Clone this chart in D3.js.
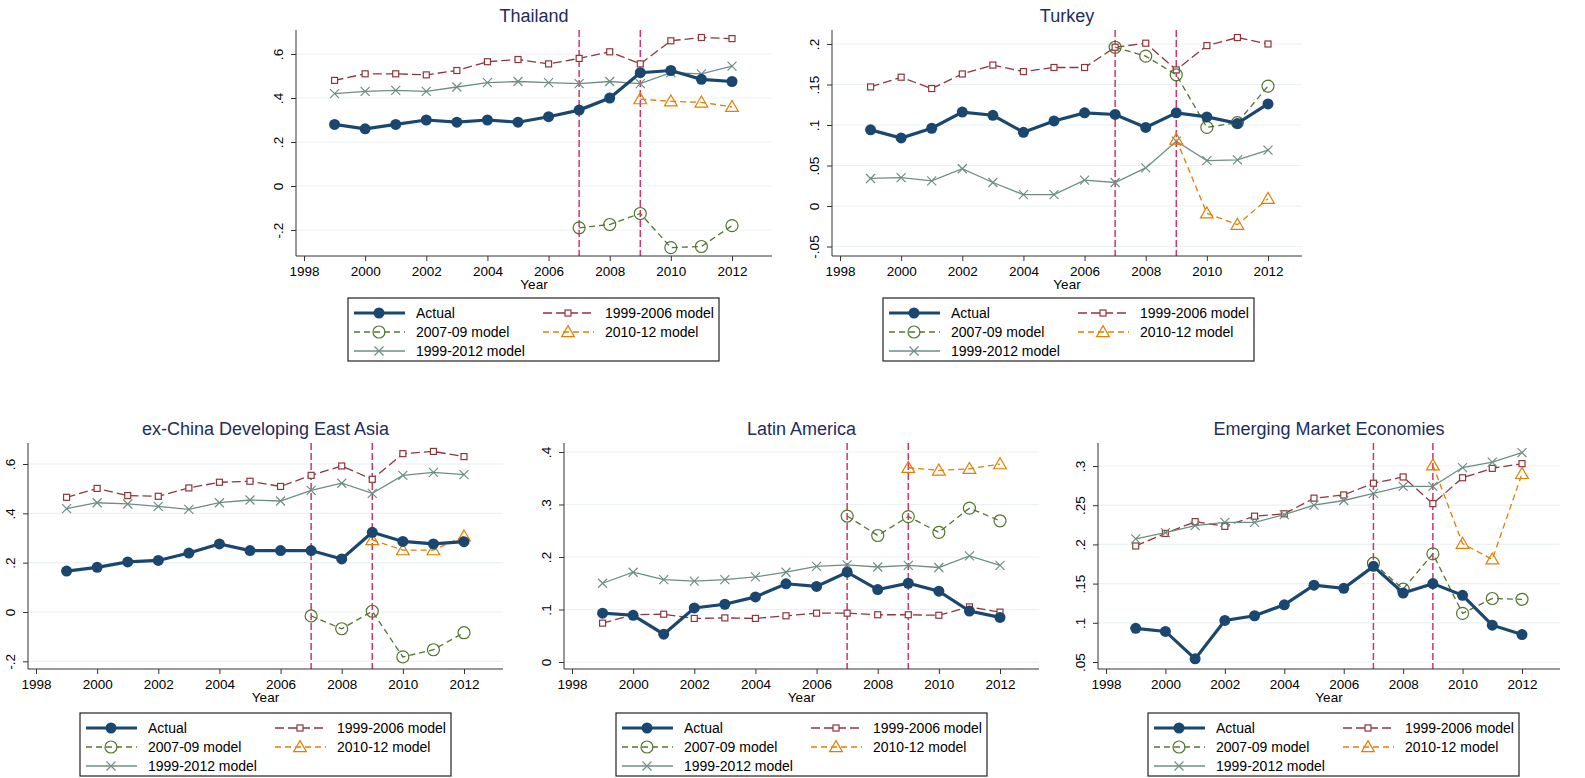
<!DOCTYPE html>
<html>
<head>
<meta charset="utf-8">
<script src="https://cdn.jsdelivr.net/npm/d3@7"></script>
<style>
  body { margin: 0; background: #fff; }
  svg { font-family: "Liberation Sans", Arial, sans-serif; }
</style>
</head>
<body>
<svg id="chart" width="1585" height="778"></svg>
<script>
// Years and tick labels
var years = d3.range(1999, 2013);
var xTicks = d3.range(1998, 2013, 2);
var breakYears = [2007, 2009];

// Thailand
var thActual = [.28, .26, .28, .30, .29, .30, .29, .315, .345, .40, .515, .525, .485, .475];
var th9906 = [.48, .51, .51, .505, .525, .565, .575, .555, .58, .61, .555, .66, .675, .67];
var th9912 = [.42, .43, .435, .43, .45, .47, .475, .47, .465, .475, .465, .515, .51, .545];
var th0709 = [-.19, -.175, -.125, -.28, -.275, -.18];   // 2007-2012
var th1012 = [.395, .385, .38, .36];                    // 2009-2012
var thTicks = [-.2, 0, .2, .4, .6];

// Turkey
var trActual = [.094, .084, .096, .116, .112, .091, .105, .115, .113, .097, .115, .110, .102, .126];
var tr9906 = [.147, .159, .145, .163, .174, .166, .171, .171, .196, .201, .168, .198, .208, .200];
var tr9912 = [.034, .035, .031, .046, .029, .014, .014, .032, .029, .047, .080, .056, .057, .069];
var tr0709 = [.196, .185, .162, .097, .103, .148];
var tr1012 = [.082, -.009, -.023, .009];
var trTicks = [-.05, 0, .05, .1, .15, .2];

// ex-China Developing East Asia
var eaActual = [.166, .181, .203, .209, .239, .276, .249, .249, .249, .215, .323, .286, .276, .285];
var ea9906 = [.465, .501, .472, .469, .503, .526, .530, .509, .554, .592, .538, .642, .651, .630];
var ea9912 = [.419, .443, .438, .428, .416, .443, .454, .450, .493, .522, .481, .554, .566, .557];
var ea0709 = [-.016, -.068, .003, -.182, -.153, -.084];
var ea1012 = [.292, .251, .251, .307];
var eaTicks = [-.2, 0, .2, .4, .6];

// Latin America
var laActual = [.093, .089, .053, .103, .110, .124, .149, .144, .171, .138, .150, .135, .097, .085];
var la9906 = [.074, .090, .091, .083, .084, .083, .088, .093, .093, .090, .090, .089, .105, .095];
var la9912 = [.150, .171, .157, .154, .157, .162, .171, .182, .185, .181, .184, .180, .202, .184];
var la0709 = [.278, .241, .277, .247, .293, .269];
var la1012 = [.370, .365, .368, .377];
var laTicks = [0, .1, .2, .3, .4];

// Emerging Market Economies
var emActual = [.093, .089, .054, .103, .109, .123, .148, .144, .172, .138, .150, .135, .097, .085];
var em9906 = [.198, .214, .229, .223, .236, .239, .259, .263, .278, .286, .252, .285, .297, .303];
var em9912 = [.207, .215, .224, .228, .228, .238, .250, .256, .265, .274, .274, .298, .305, .317];
var em0709 = [.176, .143, .188, .112, .131, .130];
var em1012 = [.301, .201, .181, .290];
var emTicks = [.05, .1, .15, .2, .25, .3];

// Layout of each panel (pixel positions), values kept above
var panels = [
  { title: "Thailand", actual: thActual, m9906: th9906, m9912: th9912, m0709: th0709, m1012: th1012, ticks: thTicks,
    axisX: 296, right: 772, top: 30, bottom: 256, px1998: 304, px2012: 732, yv: [0, .6], ypx: [186, 54], legX: 348, legY: 298 },
  { title: "Turkey", actual: trActual, m9906: tr9906, m9912: tr9912, m0709: tr0709, m1012: tr1012, ticks: trTicks,
    axisX: 832, right: 1302, top: 30, bottom: 256, px1998: 840, px2012: 1268, yv: [0, .2], ypx: [206, 44], legX: 883, legY: 298 },
  { title: "ex-China Developing East Asia", actual: eaActual, m9906: ea9906, m9912: ea9912, m0709: ea0709, m1012: ea1012, ticks: eaTicks,
    axisX: 28, right: 503, top: 443, bottom: 669, px1998: 36, px2012: 464, yv: [0, .6], ypx: [612, 464], legX: 80, legY: 713 },
  { title: "Latin America", actual: laActual, m9906: la9906, m9912: la9912, m0709: la0709, m1012: la1012, ticks: laTicks,
    axisX: 564, right: 1039, top: 443, bottom: 669, px1998: 572, px2012: 1000, yv: [0, .4], ypx: [662, 452], legX: 616, legY: 713 },
  { title: "Emerging Market Economies", actual: emActual, m9906: em9906, m9912: em9912, m0709: em0709, m1012: em1012, ticks: emTicks,
    axisX: 1098, right: 1560, top: 443, bottom: 669, px1998: 1106, px2012: 1522, yv: [.05, .3], ypx: [662, 466], legX: 1148, legY: 713 }
];

var styles = {
  actual: { color: "#1a476f", width: 3.2, dash: null, marker: "dot" },
  m9906: { color: "#90353b", width: 1.3, dash: "9,4", marker: "square" },
  m0709: { color: "#55752f", width: 1.3, dash: "6,4", marker: "circle" },
  m1012: { color: "#e37e00", width: 1.3, dash: "6,4", marker: "triangle" },
  m9912: { color: "#6e8e84", width: 1.3, dash: null, marker: "x" }
};
var legendItems = [
  { key: "actual", label: "Actual", col: 0, row: 0 },
  { key: "m9906", label: "1999-2006 model", col: 1, row: 0 },
  { key: "m0709", label: "2007-09 model", col: 0, row: 1 },
  { key: "m1012", label: "2010-12 model", col: 1, row: 1 },
  { key: "m9912", label: "1999-2012 model", col: 0, row: 2 }
];

var svg = d3.select("#chart");
var fmt = function (v) { return v === 0 ? "0" : String(+v.toFixed(2)).replace("0.", "."); };

function drawMarker(g, type, x, y, color) {
  if (type === "dot") {
    g.append("circle").attr("cx", x).attr("cy", y).attr("r", 5.5).attr("fill", color);
  } else if (type === "square") {
    g.append("rect").attr("x", x - 3).attr("y", y - 3).attr("width", 6).attr("height", 6)
      .attr("fill", "#fff").attr("stroke", color).attr("stroke-width", 1.2);
  } else if (type === "circle") {
    g.append("circle").attr("cx", x).attr("cy", y).attr("r", 6)
      .attr("fill", "none").attr("stroke", color).attr("stroke-width", 1.2);
  } else if (type === "triangle") {
    g.append("path").attr("d", d3.symbol(d3.symbolTriangle, 70)())
      .attr("transform", "translate(" + x + "," + (y + 1) + ")")
      .attr("fill", "none").attr("stroke", color).attr("stroke-width", 1.2);
  } else if (type === "x") {
    g.append("path").attr("d", "M-4.5,-4.5L4.5,4.5M-4.5,4.5L4.5,-4.5")
      .attr("transform", "translate(" + x + "," + y + ")")
      .attr("stroke", color).attr("stroke-width", 1.2);
  }
}

panels.forEach(function (p) {
  var g = svg.append("g");
  var x = d3.scaleLinear().domain([1998, 2012]).range([p.px1998, p.px2012]);
  var y = d3.scaleLinear().domain(p.yv).range(p.ypx);

  // gridlines
  g.selectAll(".grid").data(p.ticks).enter().append("line")
    .attr("x1", p.axisX).attr("x2", p.right)
    .attr("y1", d => y(d)).attr("y2", d => y(d))
    .attr("stroke", "#eaf2f3").attr("stroke-width", 1.2);

  // vertical break lines
  g.selectAll(".brk").data(breakYears).enter().append("line")
    .attr("x1", d => x(d)).attr("x2", d => x(d))
    .attr("y1", p.top).attr("y2", p.bottom)
    .attr("stroke", "#d6336c").attr("stroke-width", 1.5).attr("stroke-dasharray", "7,3");

  // axes
  var xAxis = g.append("g").attr("transform", "translate(0," + p.bottom + ")")
    .call(d3.axisBottom(x).tickValues(xTicks).tickFormat(d3.format("d")).tickSize(5).tickSizeOuter(0));
  xAxis.select(".domain").attr("d", "M" + p.axisX + ",0H" + p.right);
  xAxis.selectAll("text").attr("font-size", 13.5).attr("fill", "#000").attr("dy", "0.9em");

  var yAxis = g.append("g").attr("transform", "translate(" + p.axisX + ",0)")
    .call(d3.axisLeft(y).tickValues(p.ticks).tickFormat(fmt).tickSize(5).tickSizeOuter(0));
  yAxis.select(".domain").attr("d", "M0," + p.top + "V" + p.bottom);
  yAxis.selectAll(".tick text").attr("font-size", 13.5).attr("fill", "#000")
    .attr("x", null).attr("dy", null).attr("text-anchor", "middle")
    .attr("transform", "translate(-13,0) rotate(-90)");
  g.selectAll(".domain, .tick line").attr("stroke", "#333");

  // titles
  g.append("text").attr("x", (p.axisX + p.right) / 2).attr("y", p.top - 8)
    .attr("text-anchor", "middle").attr("font-size", 18).attr("fill", "#1e2d5c").text(p.title);
  g.append("text").attr("x", (p.axisX + p.right) / 2).attr("y", p.bottom + 33)
    .attr("text-anchor", "middle").attr("font-size", 13.5).text("Year");

  // series
  var series = [
    { key: "m9906", yrs: years, vals: p.m9906 },
    { key: "m9912", yrs: years, vals: p.m9912 },
    { key: "m0709", yrs: d3.range(2007, 2013), vals: p.m0709 },
    { key: "m1012", yrs: d3.range(2009, 2013), vals: p.m1012 },
    { key: "actual", yrs: years, vals: p.actual }
  ];
  series.forEach(function (s) {
    var st = styles[s.key];
    var pts = s.vals.map((v, i) => [s.yrs[i], v]);
    g.append("path").datum(pts)
      .attr("d", d3.line().x(d => x(d[0])).y(d => y(d[1])))
      .attr("fill", "none").attr("stroke", st.color).attr("stroke-width", st.width)
      .attr("stroke-dasharray", st.dash);
    pts.forEach(d => drawMarker(g, st.marker, x(d[0]), y(d[1]), st.color));
  });

  // legend
  var lg = g.append("g").attr("transform", "translate(" + p.legX + "," + p.legY + ")");
  lg.append("rect").attr("width", 371).attr("height", 63)
    .attr("fill", "#fff").attr("stroke", "#222").attr("stroke-width", 1.2);
  legendItems.forEach(function (it) {
    var st = styles[it.key];
    var ox = it.col === 0 ? 6 : 195;
    var oy = 15 + it.row * 19;
    lg.append("line").attr("x1", ox).attr("x2", ox + 51).attr("y1", oy).attr("y2", oy)
      .attr("stroke", st.color).attr("stroke-width", st.width).attr("stroke-dasharray", st.dash);
    drawMarker(lg, st.marker, ox + 25, oy, st.color);
    lg.append("text").attr("x", ox + 62).attr("y", oy + 5).attr("font-size", 14).text(it.label);
  });
});
</script>
</body>
</html>
